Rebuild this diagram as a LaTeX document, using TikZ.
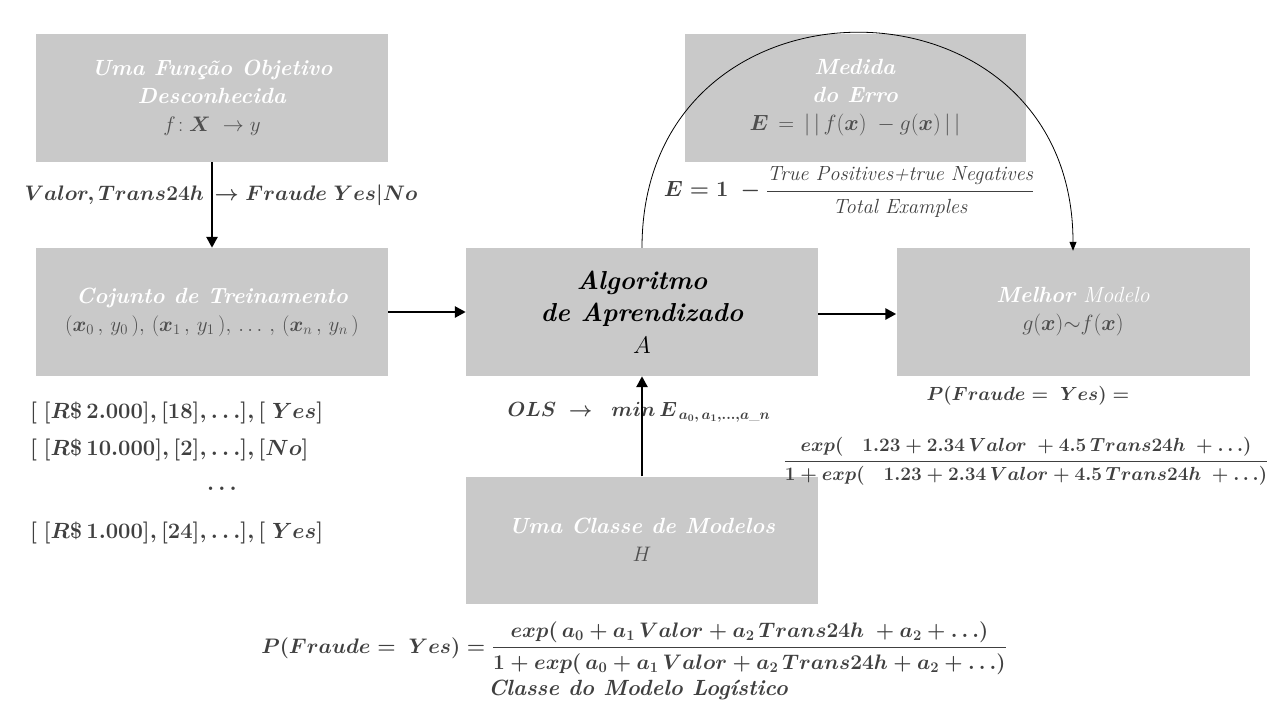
\RequirePackage{fix-cm}
\documentclass[tikz,border=0pt]{standalone}
\usepackage{fontspec}
\usepackage{amsmath,bm}
\usetikzlibrary{arrows.meta}
\definecolor{boxgray}{HTML}{C9C9C9}
\definecolor{dtext}{HTML}{4F4F4F}
\definecolor{ftext}{HTML}{404040}
\begin{document}
\begin{tikzpicture}[x=1pt,y=-1pt,
  box/.style={fill=boxgray, draw=none, minimum width=352pt, minimum height=128pt, align=center, inner sep=0pt,
    font=\fontsize{22}{28}\selectfont},
  conn/.style={line width=2.6pt, -{Triangle[length=11pt,width=11pt]}},
  arcconn/.style={line width=0.8pt, -{Triangle[length=9pt,width=7pt]}},
  lbl/.style={inner sep=0pt, text=ftext, font=\fontsize{22}{28}\selectfont\boldmath}
]
\useasboundingbox (0,0) rectangle (1280,720);
\fill[white] (0,0) rectangle (1280,720);

% boxes
\node[box] (obj) at (212,98) {\textcolor{white}{\textbf{\textit{Uma Função Objetivo}}}\\\textcolor{white}{\textbf{\textit{Desconhecida}}}\\\textcolor{dtext}{\fontsize{21}{28}\selectfont$f\!:\bm{X}\ \rightarrow y$}};
\node[box, minimum width=341pt] (err) at (855,98) {\textcolor{white}{\textbf{\textit{Medida}}}\\\textcolor{white}{\textbf{\textit{do Erro}}}\\\textcolor{dtext}{\fontsize{22}{28}\selectfont$\bm{E}\,=\,|\,|\,f(\bm{x})\;-g(\bm{x})\,|\,|$}};
\node[box] (train) at (212,312) {\textcolor{white}{\textbf{\textit{Cojunto de Treinamento}}}\\\textcolor{dtext}{\fontsize{21}{28}\selectfont$(\bm{x}_0\,,\,y_0\,),\,(\bm{x}_1\,,\,y_1\,),\,\ldots\,,\,(\bm{x}_n\,,\,y_n\,)$}};
\node[box, font=\fontsize{26}{32}\selectfont] (alg) at (642,312) {\textbf{\textit{Algoritmo}}\\\textbf{\textit{de Aprendizado}}\\{\fontsize{24}{32}\selectfont$A$}};
\node[box, minimum width=353pt] (best) at (1073,312) {\textcolor{white}{\textbf{\textit{Melhor}} \textit{Modelo}}\\\textcolor{dtext}{\fontsize{22}{28}\selectfont$g(\bm{x}){\sim}f(\bm{x})$}};
\node[box, minimum height=127pt] (hyp) at (642,540) {\textcolor{white}{\textbf{\textit{Uma Classe de Modelos}}}\\\textcolor{dtext}{\fontsize{21}{28}\selectfont$H$}};

% labels
\node[lbl, font=\fontsize{21}{26}\selectfont\boldmath] (lvalor) at (221,195) {$Valor,Trans24h\,\rightarrow Fraude\;Yes|No$};
\node[lbl] (lerr) at (849,192) {$\bm{E}=\bm{1}\ -\dfrac{\text{\fontsize{20.5}{22}\selectfont\mdseries\itshape True Positives+true Negatives}}{\text{\fontsize{20.5}{22}\selectfont\mdseries\itshape Total Examples}}$};
\node[lbl, anchor=west] (l1) at (30,413) {$[\ [R\$\,2.000],[18],\ldots],[\ Yes]$};
\node[lbl, anchor=west] (l2) at (30,450) {$[\ [R\$\,10.000],[2],\ldots],[No]$};
\node[lbl] (l3) at (222,489) {$\ldots$};
\node[lbl, anchor=west] (l4) at (30,533) {$[\ [R\$\,1.000],[24],\ldots],[\ Yes]$};
\node[lbl, font=\fontsize{20.5}{26}\selectfont\boldmath] (ols) at (639,412) {$OLS\ \rightarrow\ \ min\,E_{\,a_0,\,a_1,\ldots,a\_n}$};
\node[lbl, font=\fontsize{19}{24}\selectfont\boldmath] (pright) at (1028,396) {$P(Fraude=\ Yes)=$};
\node[lbl, font=\fontsize{19}{22}\selectfont\boldmath] (fright) at (1026,461) {$\dfrac{exp(\quad 1.23+2.34\,Valor\ +4.5\,Trans24h\ +\ldots)}{1+exp(\quad 1.23+2.34\,Valor+4.5\,Trans24h\ +\ldots)}$};
\node[lbl, font=\fontsize{21}{26}\selectfont\boldmath] (pbottom) at (634,648) {$P(Fraude=\ Yes)=\dfrac{exp(\,a_0+a_1\,Valor+a_2\,Trans24h\ +a_2+\ldots)}{1+exp(\,a_0+a_1\,Valor+a_2\,Trans24h+a_2+\ldots)}$};
\node[lbl, font=\fontsize{22}{26}\selectfont\bfseries\itshape] (classe) at (638,690) {Classe do Modelo Logístico};

% connectors
\draw[conn] (obj.south) -- (train.north);
\draw[conn] (train.east) -- (alg.west);
\draw[conn] ([yshift=-2pt]alg.east) -- ([yshift=-2pt]best.west);
\draw[conn] (hyp.north) -- (alg.south);
\draw[arcconn] (alg.north) .. controls +(0,-288) and +(0,-288) .. ([yshift=-3pt]best.north);
\end{tikzpicture}
\end{document}
